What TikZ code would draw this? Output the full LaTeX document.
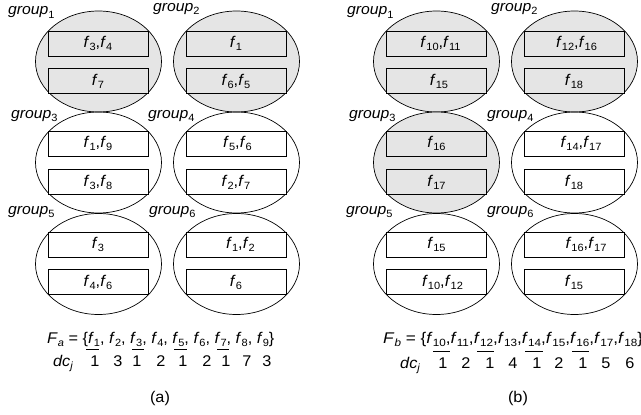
\documentclass[tikz,border=0pt]{standalone}
\usepackage{graphicx}
\usepackage{fontspec}
\setmainfont{Liberation Sans}[FakeStretch=1.05]
\usetikzlibrary{shapes.geometric}
\newcommand\sbs[1]{\raisebox{-0.2em}{\fontsize{10.5}{11}\selectfont #1}}
\newcommand\fv[1]{\textit{f}\sbs{#1}}
\begin{document}
\begin{tikzpicture}[x=1pt,y=-1pt,
  txt/.style={font=\fontsize{15.5}{18}\selectfont, inner sep=0pt},
  grpell/.style={ellipse, draw, line width=0.7pt, minimum width=126pt, minimum height=101pt, inner sep=0pt},
  shaded/.style={fill=black!10},
  box/.style={rectangle, draw, line width=0.7pt, minimum width=100pt, minimum height=25pt, inner sep=0pt, fill=white, font=\fontsize{15.5}{18}\selectfont},
  sbox/.style={box, fill=black!10},
  glabel/.style={inner sep=0pt, anchor=base west, font=\fontsize{15}{17}\selectfont},
  ftext/.style={txt, anchor=base west},
  num/.style={txt, anchor=base},
  uline/.style={line width=0.7pt}]
\useasboundingbox (0,0) rectangle (641,415);
% ---------------- panel (a) ----------------
\node[grpell, shaded] (a1) at (98.5,61.5) {};
\node[grpell, shaded] (a2) at (236.5,61.5) {};
\node[grpell] (a3) at (98.5,162.5) {};
\node[grpell] (a4) at (236.5,162.5) {};
\node[grpell] (a5) at (98.5,264) {};
\node[grpell] (a6) at (236.5,264) {};
\node[sbox] (a1t) at (98,43.5) {\fv{3},\fv{4}};
\node[sbox] (a1b) at (98,81) {\fv{7}};
\node[sbox] (a2t) at (236,43.5) {\fv{1}};
\node[sbox] (a2b) at (236,81) {\fv{6},\fv{5}};
\node[box] (a3t) at (98,143.5) {\fv{1},\fv{9}};
\node[box] (a3b) at (98,182) {\fv{3},\fv{8}};
\node[box] (a4t) at (236,143.5) {\hspace*{3pt}\fv{5},\fv{6}};
\node[box] (a4b) at (236,182) {\fv{2},\fv{7}};
\node[box] (a5t) at (98,244.5) {\fv{3}};
\node[box] (a5b) at (98,282) {\fv{4},\fv{6}};
\node[box] (a6t) at (236,244.5) {\hspace*{9pt}\fv{1},\fv{2}};
\node[box] (a6b) at (236,282) {\fv{6}};
\node[glabel] (la1) at (8,15) {\textit{group}\sbs{1}};
\node[glabel] (la2) at (153,12) {\textit{group}\sbs{2}};
\node[glabel] (la3) at (11,118) {\textit{group}\sbs{3}};
\node[glabel] (la4) at (148,118) {\textit{group}\sbs{4}};
\node[glabel] (la5) at (8,214) {\textit{group}\sbs{5}};
\node[glabel] (la6) at (149,214) {\textit{group}\sbs{6}};
\node[ftext] (Fa) at (47,343) {\textit{F}\sbs{\textit{a}} = \{\fv{1}, \fv{2}, \fv{3}, \fv{4}, \fv{5}, \fv{6}, \fv{7}, \fv{8}, \fv{9}\}};
\node[ftext] (dca) at (53,366) {\textit{dc}\sbs{\textit{j}}};
\foreach \x/\v [count=\i] in {95/1,118/3,137/1,161/2,183/1,207/2,226/1,247/7,267/3}
  \node[num] (na\i) at (\x,366) {\v};
\draw[uline] (86,349) -- (99,349);
\draw[uline] (132,349) -- (144,349);
\draw[uline] (174,349) -- (187,349);
\draw[uline] (217,349) -- (229,349);
\node[txt] (capa) at (160,398) {(a)};
% ---------------- panel (b) ----------------
\node[grpell, shaded] (b1) at (436.5,61.5) {};
\node[grpell, shaded] (b2) at (574.5,61.5) {};
\node[grpell, shaded] (b3) at (436.5,162.5) {};
\node[grpell] (b4) at (574.5,162.5) {};
\node[grpell] (b5) at (436.5,264) {};
\node[grpell] (b6) at (574.5,264) {};
\node[sbox] (b1t) at (436.5,43.5) {\hspace*{8pt}\fv{10},\fv{11}};
\node[sbox] (b1b) at (436.5,81) {\hspace*{5pt}\fv{15}};
\node[sbox] (b2t) at (574,43.5) {\hspace*{5pt}\fv{12},\fv{16}};
\node[sbox] (b2b) at (574,81) {\fv{18}};
\node[sbox] (b3t) at (436.5,143.5) {\fv{16}};
\node[sbox] (b3b) at (436.5,182) {\fv{17}};
\node[box] (b4t) at (574,143.5) {\hspace*{14pt}\fv{14},\fv{17}};
\node[box] (b4b) at (574,182) {\fv{18}};
\node[box] (b5t) at (436.5,244.5) {\fv{15}};
\node[box] (b5b) at (436.5,282) {\hspace*{12pt}\fv{10},\fv{12}};
\node[box] (b6t) at (574,244.5) {\hspace*{24pt}\fv{16},\fv{17}};
\node[box] (b6b) at (574,282) {\fv{15}};
\node[glabel] (lb1) at (347,15) {\textit{group}\sbs{1}};
\node[glabel] (lb2) at (491,12) {\textit{group}\sbs{2}};
\node[glabel] (lb3) at (349,118) {\textit{group}\sbs{3}};
\node[glabel] (lb4) at (487,118) {\textit{group}\sbs{4}};
\node[glabel] (lb5) at (346,214) {\textit{group}\sbs{5}};
\node[glabel] (lb6) at (487,214) {\textit{group}\sbs{6}};
\node[ftext] (Fb) at (383,343) {\scalebox{1.06}[1]{\textit{F}\sbs{\textit{b}} = \{\fv{10},\fv{11},\fv{12},\fv{13},\fv{14},\fv{15},\fv{16},\fv{17},\fv{18}\}}};
\node[ftext] (dcb) at (400,368) {\textit{dc}\sbs{\textit{j}}};
\foreach \x/\v [count=\i] in {443/1,466/2,490/1,513/4,537/1,559/2,583/1,606/5,630/6}
  \node[num] (nb\i) at (\x,368) {\v};
\draw[uline] (433,351) -- (450,351);
\draw[uline] (477,351) -- (494,351);
\draw[uline] (525,351) -- (543,351);
\draw[uline] (572,351) -- (589,351);
\node[txt] (capb) at (518,398) {(b)};
\end{tikzpicture}
\end{document}
